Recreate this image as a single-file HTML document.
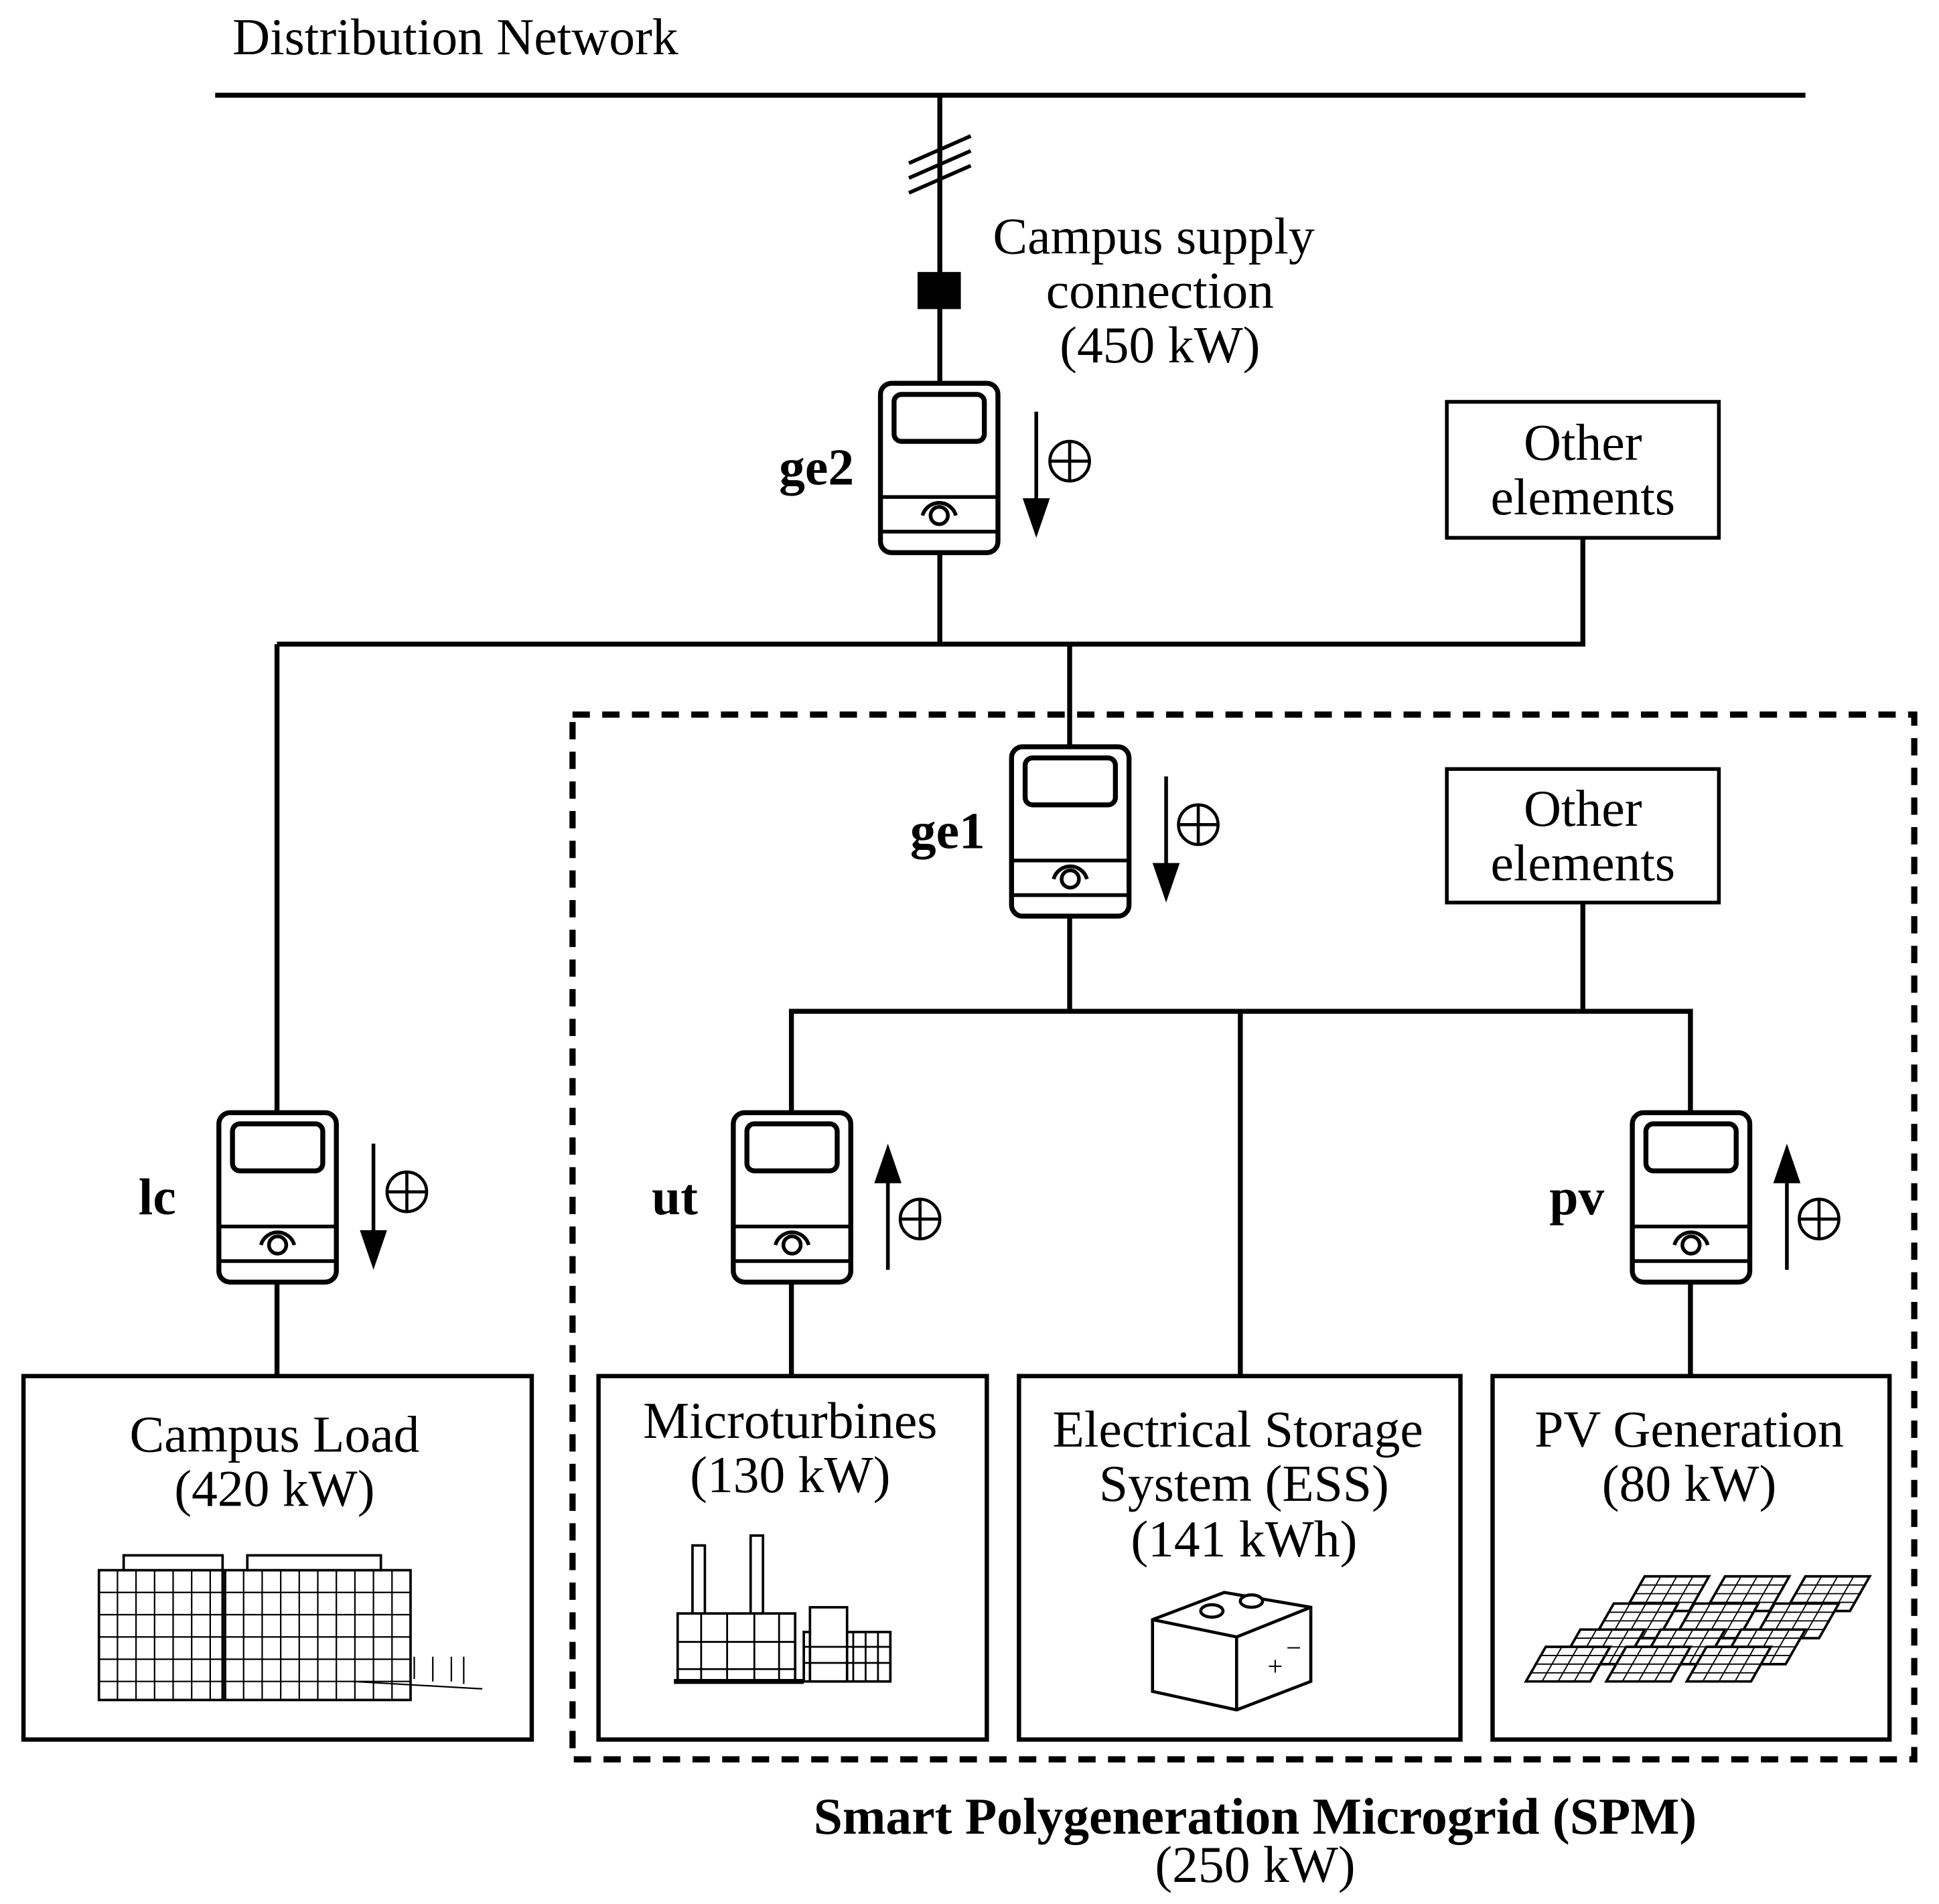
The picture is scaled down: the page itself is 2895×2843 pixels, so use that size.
<!DOCTYPE html>
<html><head><meta charset="utf-8"><style>
html,body{margin:0;padding:0;background:#fff}
svg{display:block}
text{font-family:"Liberation Serif",serif;fill:#000}
</style></head><body>
<svg width="2895" height="2843" viewBox="0 0 1568 1540" preserveAspectRatio="none" xmlns="http://www.w3.org/2000/svg">
<defs>
<g id="meter">
<rect x="0" y="0" width="95" height="137" rx="9" fill="#fff" stroke="#000" stroke-width="4"/>
<rect x="11" y="9" width="73" height="38" rx="6" fill="none" stroke="#000" stroke-width="4"/>
<line x1="0" y1="92" x2="95" y2="92" stroke="#000" stroke-width="3"/>
<line x1="0" y1="120" x2="95" y2="120" stroke="#000" stroke-width="3"/>
<path d="M34 107 A14 14 0 0 1 61 107" fill="#fff" stroke="#000" stroke-width="3"/>
<circle cx="47.5" cy="107" r="7" fill="#fff" stroke="#000" stroke-width="3"/>
</g>
<g id="plus">
<circle cx="0" cy="0" r="16" fill="none" stroke="#000" stroke-width="2.5"/>
<line x1="-16" y1="0" x2="16" y2="0" stroke="#000" stroke-width="2.5"/>
<line x1="0" y1="-16" x2="0" y2="16" stroke="#000" stroke-width="2.5"/>
</g>
<g id="down"><line x1="0" y1="0" x2="0" y2="80" stroke="#000" stroke-width="3"/><polygon points="-11,70 11,70 0,102" fill="#000"/></g>
<g id="up"><line x1="0" y1="102" x2="0" y2="22" stroke="#000" stroke-width="3"/><polygon points="-11,32 11,32 0,0" fill="#000"/></g>
<g id="panel">
<polygon points="20,0 72,0 56,28 4,28" fill="#fff" stroke="#000" stroke-width="2"/>
<line x1="16" y1="7" x2="68" y2="7" stroke="#000" stroke-width="1"/>
<line x1="12" y1="14" x2="64" y2="14" stroke="#000" stroke-width="1"/>
<line x1="8" y1="21" x2="60" y2="21" stroke="#000" stroke-width="1"/>
<line x1="33" y1="0" x2="17" y2="28" stroke="#000" stroke-width="1"/>
<line x1="46" y1="0" x2="30" y2="28" stroke="#000" stroke-width="1"/>
<line x1="59" y1="0" x2="43" y2="28" stroke="#000" stroke-width="1"/>
</g>
</defs>

<g stroke="#000" stroke-width="4" fill="none">
<line x1="174" y1="77" x2="1460" y2="77"/>
<line x1="760" y1="77" x2="760" y2="310"/>
<line x1="735" y1="132" x2="785" y2="110" stroke-width="3"/>
<line x1="735" y1="144" x2="785" y2="122" stroke-width="3"/>
<line x1="735" y1="156" x2="785" y2="134" stroke-width="3"/>
<line x1="760" y1="447" x2="760" y2="521"/>
<line x1="224" y1="521" x2="1282" y2="521"/>
<line x1="1280" y1="435" x2="1280" y2="521"/>
<line x1="865" y1="521" x2="865" y2="604"/>
<line x1="224" y1="521" x2="224" y2="900"/>
<line x1="224" y1="1038" x2="224" y2="1113"/>
<line x1="865" y1="742" x2="865" y2="818"/>
<line x1="638" y1="818" x2="1369" y2="818"/>
<line x1="1280" y1="730" x2="1280" y2="818"/>
<line x1="1003" y1="818" x2="1003" y2="1113"/>
<line x1="640" y1="818" x2="640" y2="900"/>
<line x1="640" y1="1038" x2="640" y2="1113"/>
<line x1="1367" y1="818" x2="1367" y2="900"/>
<line x1="1367" y1="1038" x2="1367" y2="1113"/>
<rect x="463" y="578" width="1085" height="845" stroke-width="5" stroke-dasharray="14,10"/>
<rect x="1170" y="325" width="220" height="110" stroke-width="3"/>
<rect x="1170" y="622" width="220" height="108" stroke-width="3"/>
<rect x="19" y="1113" width="411" height="294" stroke-width="3.5"/>
<rect x="484" y="1113" width="314" height="294" stroke-width="3.5"/>
<rect x="824" y="1113" width="357" height="294" stroke-width="3.5"/>
<rect x="1207" y="1113" width="321" height="294" stroke-width="3.5"/>
</g>
<rect x="742" y="220" width="35" height="30" fill="#000"/>

<use href="#meter" x="712" y="310"/>
<use href="#meter" x="818" y="604"/>
<use href="#meter" x="177" y="900"/>
<use href="#meter" x="593" y="900"/>
<use href="#meter" x="1320" y="900"/>

<use href="#down" x="838" y="333"/><use href="#plus" x="865" y="373"/>
<use href="#down" x="943" y="628"/><use href="#plus" x="969" y="667"/>
<use href="#down" x="302" y="925"/><use href="#plus" x="329" y="964"/>
<use href="#up" x="718" y="925"/><use href="#plus" x="744" y="986"/>
<use href="#up" x="1445" y="925"/><use href="#plus" x="1471" y="986"/>

<g font-size="42">
<text x="188" y="44">Distribution Network</text>
<text x="933" y="205" text-anchor="middle">Campus supply</text>
<text x="938" y="249" text-anchor="middle">connection</text>
<text x="938" y="293" text-anchor="middle">(450 kW)</text>
<text x="1280" y="372" text-anchor="middle">Other</text>
<text x="1280" y="416" text-anchor="middle">elements</text>
<text x="1280" y="668" text-anchor="middle">Other</text>
<text x="1280" y="712" text-anchor="middle">elements</text>
<text x="222" y="1174" text-anchor="middle">Campus Load</text>
<text x="222" y="1218" text-anchor="middle">(420 kW)</text>
<text x="639" y="1163" text-anchor="middle">Microturbines</text>
<text x="639" y="1207" text-anchor="middle">(130 kW)</text>
<text x="1001" y="1170" text-anchor="middle">Electrical Storage</text>
<text x="1006" y="1214" text-anchor="middle">System (ESS)</text>
<text x="1006" y="1259" text-anchor="middle">(141 kWh)</text>
<text x="1366" y="1170" text-anchor="middle">PV Generation</text>
<text x="1366" y="1214" text-anchor="middle">(80 kW)</text>
<text x="1015" y="1522" text-anchor="middle">(250 kW)</text>
</g>
<g font-size="42" font-weight="bold">
<text x="630" y="392">ge2</text>
<text x="736" y="686">ge1</text>
<text x="112" y="982">lc</text>
<text x="527" y="982">ut</text>
<text x="1253" y="982">pv</text>
<text x="1015" y="1483" text-anchor="middle">Smart Polygeneration Microgrid (SPM)</text>
</g>

<!-- building -->
<g stroke="#000" fill="#fff" stroke-width="2">
<rect x="80" y="1270" width="100" height="105"/>
<rect x="182" y="1270" width="150" height="105"/>
<rect x="100" y="1258" width="80" height="12"/>
<rect x="200" y="1258" width="108" height="12"/>
</g>
<g stroke="#000" stroke-width="1.2">
<path d="M80 1288H332M80 1306H332M80 1324H332M80 1342H332M80 1360H332"/>
<path d="M95 1270V1375M110 1270V1375M125 1270V1375M140 1270V1375M155 1270V1375M170 1270V1375M197 1270V1375M212 1270V1375M227 1270V1375M242 1270V1375M257 1270V1375M272 1270V1375M287 1270V1375M302 1270V1375M317 1270V1375"/>
<path d="M285 1360L390 1366M335 1340v18M350 1340v20M365 1340v20M375 1340v22" fill="none"/>
</g>

<!-- factory -->
<g stroke="#000" stroke-width="2" fill="#fff">
<rect x="560" y="1250" width="10" height="60"/>
<rect x="607" y="1242" width="10" height="68"/>
<rect x="548" y="1305" width="95" height="55"/>
<rect x="650" y="1320" width="70" height="40"/>
<rect x="655" y="1300" width="30" height="60"/>
</g>
<g stroke="#000" stroke-width="1.5">
<path d="M567 1305V1360M588 1305V1360M610 1305V1360M630 1305V1360M690 1320V1360M700 1320V1360M710 1320V1360M650 1332H720M650 1345H720M548 1350H643M548 1328H643"/>
<path d="M545 1360H650" stroke-width="4"/>
</g>

<!-- battery -->
<g stroke="#000" stroke-width="2.5" fill="#fff">
<polygon points="932,1310 990,1288 1060,1300 1060,1360 1000,1383 932,1368"/>
<path d="M932 1310L1000 1324L1060 1300M1000 1324V1383" fill="none"/>
<ellipse cx="980" cy="1303" rx="9" ry="5"/>
<ellipse cx="1012" cy="1295" rx="9" ry="5"/>
</g>
<text x="1025" y="1355" font-size="22">+</text>
<text x="1040" y="1340" font-size="22">−</text>

<!-- panels -->
<use href="#panel" x="1310" y="1275"/>
<use href="#panel" x="1375" y="1275"/>
<use href="#panel" x="1440" y="1275"/>
<use href="#panel" x="1285" y="1297"/>
<use href="#panel" x="1350" y="1297"/>
<use href="#panel" x="1415" y="1297"/>
<use href="#panel" x="1258" y="1318"/>
<use href="#panel" x="1323" y="1318"/>
<use href="#panel" x="1388" y="1318"/>
<use href="#panel" x="1230" y="1332"/>
<use href="#panel" x="1295" y="1332"/>
<use href="#panel" x="1360" y="1332"/>
</svg>
</body></html>
